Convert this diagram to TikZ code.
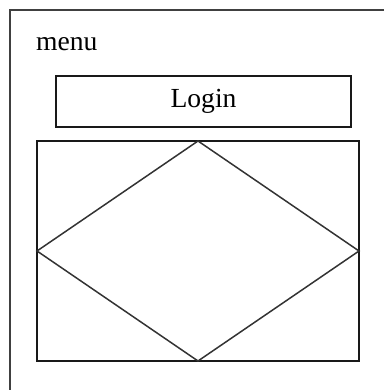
\documentclass[tikz,border=0pt]{standalone}
\usepackage{fontspec}
\setmainfont{Liberation Serif}
\begin{document}
\begin{tikzpicture}[x=1pt,y=1pt,
	box/.style={draw=black!90,line width=1.5pt,inner sep=0pt,outer sep=0pt},
	txt/.style={font=\fontsize{27.6}{32}\selectfont,inner sep=0pt}]
	\useasboundingbox (0,0) rectangle (384,390);
	\draw[black!75,line width=2pt] (384,380) -- (10,380) -- (10,0);
	\node[txt,anchor=base west] (menu) at (36,339) {menu};
	
	\node[box,minimum width=295pt,minimum height=51pt] (login) at (203.5,288.5) {};
	\node[txt] (logintext) at (login.center) {Login};
	
	\node[box,minimum width=322pt,minimum height=220pt] (canvas) at (198,139) {};
	\draw[black!80,line width=1.5pt,line join=miter] (canvas.north) -- (canvas.east) -- (canvas.south) -- (canvas.west) -- cycle;
	\end{tikzpicture}
\end{document}
